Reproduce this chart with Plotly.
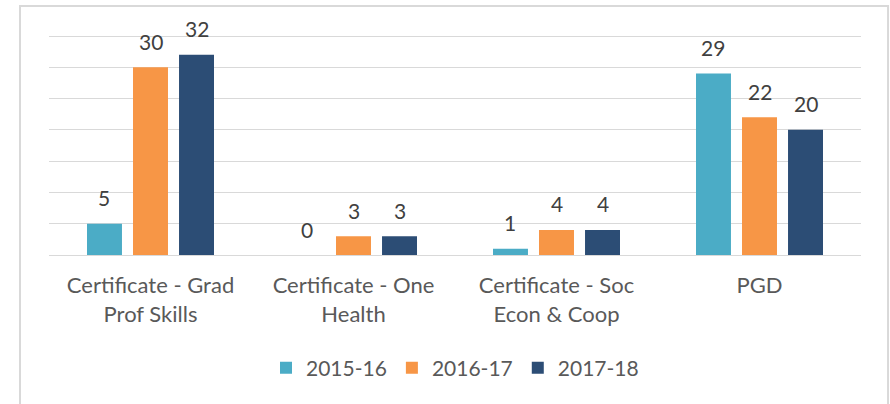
import plotly.graph_objects as go

categories = ["Certificate - Grad<br>Prof Skills", "Certificate - One<br>Health",
              "Certificate - Soc<br>Econ & Coop", "PGD"]
series_names = ["2015-16", "2016-17", "2017-18"]
values_2015 = [5, 0, 1, 29]
values_2016 = [30, 3, 4, 22]
values_2017 = [32, 3, 4, 20]
colors = ["#4BACC6", "#F79646", "#2C4D75"]

FONT = "Lato"
BARGAP = 0.32
BARGROUPGAP = 0.24
Y_TOP = 35.64  # a little headroom so the 35 gridline is drawn

fig = go.Figure()
all_values = [values_2015, values_2016, values_2017]
xpos = list(range(len(categories)))
for name, vals, col in zip(series_names, all_values, colors):
    fig.add_trace(go.Bar(x=xpos, y=vals, name=name, marker_color=col,
                         marker_line_width=0))

# value labels above each bar
slot = (1 - BARGAP) / len(series_names)
for si, vals in enumerate(all_values):
    offset = (si - (len(series_names) - 1) / 2) * slot
    for ci, v in enumerate(vals):
        fig.add_annotation(x=ci + offset, y=v, text=str(v), showarrow=False,
                           xref="x", yref="y", yanchor="middle", yshift=26,
                           font=dict(family=FONT, size=21, color="#404040"))

# outer chart frame
fig.add_shape(type="rect", xref="paper", yref="paper",
              x0=-0.0357, x1=1.0333, y0=-0.8, y1=1.1166,
              line=dict(color="#d9d9d9", width=2), fillcolor="rgba(0,0,0,0)",
              layer="below")

fig.update_layout(
    width=890, height=404,
    margin=dict(l=49, r=29, t=32, b=149),
    paper_bgcolor="white", plot_bgcolor="white",
    barmode="group", bargap=BARGAP, bargroupgap=BARGROUPGAP,
    font=dict(family=FONT, size=18, color="#595959"),
    showlegend=True,
    legend=dict(orientation="h", x=0.5, xanchor="center", y=-0.5067,
                yanchor="middle", font=dict(family=FONT, size=21, color="#595959"),
                itemwidth=30, traceorder="normal"),
)
fig.update_xaxes(tickvals=xpos, ticktext=categories, range=[-0.5, 3.5],
                 showgrid=False, zeroline=False, showline=False, ticks="",
                 ticklabelstandoff=15,
                 tickfont=dict(family=FONT, size=22, color="#595959"))
fig.update_yaxes(range=[0, Y_TOP], tickvals=[5, 10, 15, 20, 25, 30, 35],
                 showgrid=True, gridcolor="#d9d9d9",
                 gridwidth=1, showticklabels=False, zeroline=True,
                 zerolinecolor="#d9d9d9", zerolinewidth=1, ticks="")

fig.write_html("out.html")
